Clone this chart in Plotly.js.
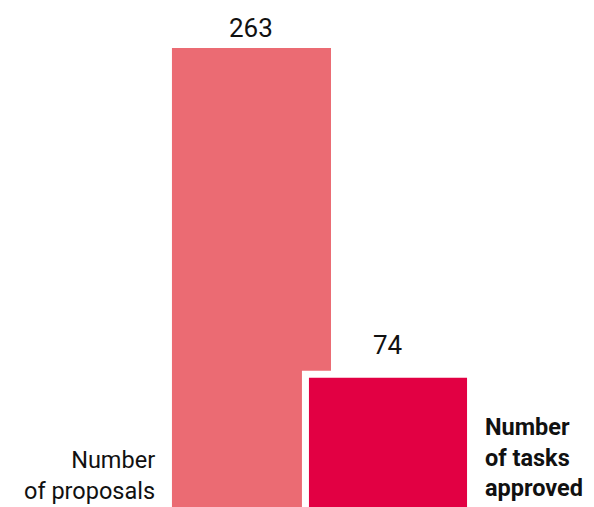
<!DOCTYPE html>
<html>
<head>
<meta charset="utf-8">
<script src="https://cdn.plot.ly/plotly-3.0.1.min.js"></script>
<style>html,body{margin:0;padding:0;background:#fff;}#chart{width:594px;height:507px;}</style>
</head>
<body>
<div id="chart"></div>
<script>
const categories = ["Number of proposals", "Number of tasks approved"];
const values = [263, 74];
const labelLeft = "Number<br>of proposals";
const labelRight = "<b>Number<br>of tasks<br>approved</b>";

const colors = ["#EB6B73", "#E20043"];
const labelShift = [3, 16];
const FONT = "Roboto, 'Noto Sans', sans-serif";

const traces = [
  {
    type: "bar", x: [categories[0]], y: [values[0]], width: [1.165],
    marker: {color: colors[0]}, hoverinfo: "skip"
  },
  {
    type: "bar", x: [categories[1]], y: [values[1]], width: [1.158],
    marker: {color: "#ffffff", line: {color: "#ffffff", width: 14}},
    hoverinfo: "skip"
  },
  {
    type: "bar", x: [categories[1]], y: [values[1]], width: [1.158],
    marker: {color: colors[1]}, hoverinfo: "skip"
  }
];

const valueAnnotations = categories.map((c, i) => ({
  x: c, y: values[i], xref: "x", yref: "y",
  text: String(values[i]), showarrow: false,
  xanchor: "center", yanchor: "bottom", yshift: labelShift[i],
  font: {family: FONT, size: 26, color: "#111"}
}));

const layout = {
  width: 594, height: 507,
  margin: {l: 0, r: 0, t: 0, b: 0},
  paper_bgcolor: "#fff", plot_bgcolor: "#fff",
  barmode: "overlay",
  showlegend: false,
  font: {family: FONT, color: "#111"},
  xaxis: {type: "category", range: [-1.842, 2.509], visible: false, fixedrange: true},
  yaxis: {range: [0, 290.5], visible: false, fixedrange: true},
  annotations: valueAnnotations.concat([
    {xref: "paper", yref: "paper", x: 157/594, y: 0, xanchor: "right", yanchor: "bottom",
     align: "right", text: labelLeft, showarrow: false,
     font: {family: FONT, size: 23.5, color: "#111"}},
    {xref: "paper", yref: "paper", x: 483/594, y: 0.005, xanchor: "left", yanchor: "bottom",
     align: "left", text: labelRight, showarrow: false,
     font: {family: FONT, size: 23.5, color: "#111"}}
  ])
};

Plotly.newPlot("chart", traces, layout, {staticPlot: true, displayModeBar: false});
</script>
</body>
</html>
